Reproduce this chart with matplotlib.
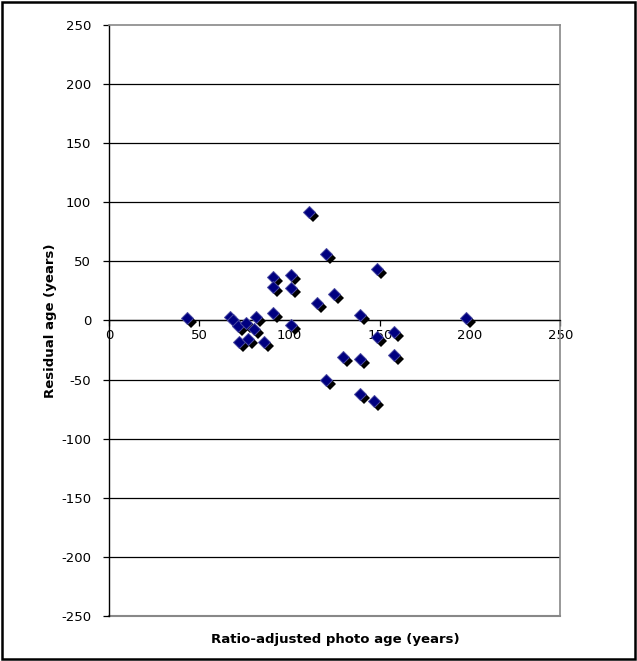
import matplotlib
matplotlib.use('Agg')
import matplotlib.pyplot as plt
import matplotlib.transforms as mtransforms
from matplotlib.patches import Rectangle

# Ratio-adjusted photo age vs residual age (years)
photo_age = [43, 67, 68.5, 71.5, 76, 81.5, 80.5, 72, 77, 86,
             91, 91, 91, 100.5, 100.5, 100.5, 110.5, 120, 115, 124.5,
             129.5, 148.5, 139, 197.5, 148.5, 158, 158, 139, 120, 139, 147]
residual = [2, 3, 0.5, -5, -2.5, 3, -7.5, -18, -15.5, -18,
            36.5, 28.5, 6.5, 38.5, 27.5, -3.5, 91.5, 56, 14.5, 22.5,
            -31, 43.5, 4.5, 2, -14, -9.5, -29, -33, -50, -62, -68.5]

x_ticks = [0, 50, 100, 150, 200, 250]
y_ticks = [-250, -200, -150, -100, -50, 0, 50, 100, 150, 200, 250]

plt.rcParams['font.family'] = 'DejaVu Sans'
plt.rcParams['axes.unicode_minus'] = False

fig = plt.figure(figsize=(6.37, 6.61), dpi=100)
ax = fig.add_axes([0.1715, 0.0681, 0.708, 0.8941])

ax.set_xlim(0, 250)
ax.set_ylim(-250, 250)

# horizontal gridlines
for yv in y_ticks[1:-1]:
    ax.axhline(yv, color='black', lw=0.9, zorder=1)

# frame: grey box, black left axis, x axis running through y=0
for side in ['top', 'right']:
    ax.spines[side].set_color('#888888')
    ax.spines[side].set_linewidth(1.2)
ax.spines['left'].set_color('black')
ax.spines['left'].set_linewidth(1.0)
ax.spines['bottom'].set_position(('data', 0))
ax.spines['bottom'].set_linewidth(0.9)
ax.axhline(-250, color='#888888', lw=1.5, zorder=1, clip_on=False)

ax.set_xticks(x_ticks)
ax.set_yticks(y_ticks)
ax.tick_params(axis='both', direction='out', length=4, width=0.9,
               labelsize=9.5, colors='black')
ax.tick_params(axis='x', pad=2)
ax.tick_params(axis='y', pad=9)

# markers with a black drop shadow
shadow = mtransforms.offset_copy(ax.transData, fig=fig, x=4, y=-4, units='dots')
ax.plot(photo_age, residual, 'D', color='black', ms=6.2, mew=0,
        transform=shadow, zorder=3, clip_on=False)
ax.plot(photo_age, residual, 'D', color='#000080', ms=6.2, mew=0.7,
        mec='#4a4aa0', zorder=4, clip_on=False)

fig.text(0.526, 0.033, 'Ratio-adjusted photo age (years)', ha='center',
         va='center', fontsize=9.5, fontweight='bold')
fig.text(0.079, 0.515, 'Residual age (years)', ha='center', va='center',
         rotation=90, fontsize=9.5, fontweight='bold')

fig.patches.append(Rectangle((0.003, 0.003), 0.994, 0.994,
                             transform=fig.transFigure, fill=False,
                             ec='black', lw=1.8))

fig.savefig('out.png', dpi=100)
